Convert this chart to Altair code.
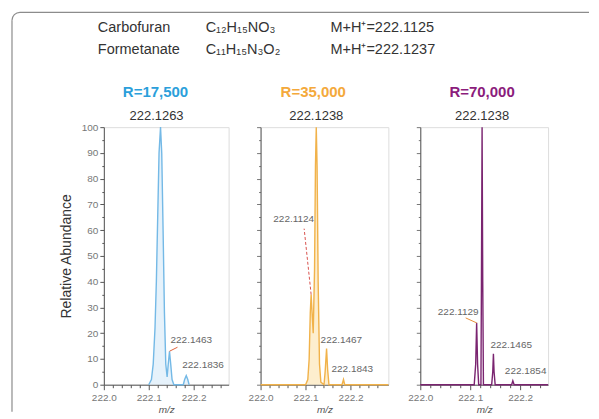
import altair as alt
import pandas as pd

# ---------------- header text ----------------
compounds = ["Carbofuran", "Formetanate"]
formulas = ["C₁₂H₁₅NO₃", "C₁₁H₁₅N₃O₂"]
mh_values = ["M+H⁺=222.1125", "M+H⁺=222.1237"]

# ---------------- panel titles ----------------
resolutions = ["R=17,500", "R=35,000", "R=70,000"]
res_colors = ["#2b9fdb", "#f4a93b", "#8b1c7c"]

# ---------------- axis ticks ----------------
y_ticks = [0, 5, 10, 15, 20, 25, 30, 35, 40, 45, 50, 55, 60, 65, 70, 75, 80, 85, 90, 95, 100]
x_ticks = [222.00, 222.02, 222.04, 222.06, 222.08, 222.10, 222.12, 222.14, 222.16,
           222.18, 222.20, 222.22, 222.24, 222.26]

# ---------------- profiles (m/z, relative abundance) ----------------
p1_mz = [222.100, 222.106, 222.110, 222.114, 222.117, 222.120, 222.123, 222.1263, 222.129,
         222.132, 222.135, 222.138, 222.141, 222.1435, 222.1463, 222.149, 222.152, 222.156,
         222.177, 222.180, 222.1836, 222.187, 222.190]
p1_ab = [0, 2, 8, 22, 40, 65, 90, 100, 90,
         60, 28, 8, 3, 8, 13, 8, 2, 0,
         0, 2, 3.5, 2, 0]

p2_mz = [222.000, 222.100, 222.105, 222.108, 222.1105, 222.1124, 222.1145, 222.117, 222.120,
         222.122, 222.1238, 222.1256, 222.128, 222.131, 222.134, 222.141, 222.1435, 222.1467,
         222.149, 222.152, 222.181, 222.1843, 222.187, 222.284]
p2_ab = [0, 0, 2, 10, 28, 35, 28, 20, 45,
         85, 100, 85, 40, 8, 1, 0, 5, 14,
         6, 0, 0, 2, 0, 0]

p3_mz = [222.000, 222.108, 222.111, 222.1129, 222.1148, 222.117, 222.1215, 222.1225, 222.1238,
         222.1251, 222.1265, 222.143, 222.1452, 222.1465, 222.1478, 222.150, 222.183, 222.1854,
         222.188, 222.256]
p3_ab = [0, 0, 8, 24, 8, 0, 0, 40, 100,
         40, 0, 0, 5, 12, 5, 0, 0, 1.5,
         0, 0]

# ---------------- labelled peaks ----------------
p1_peak_mz = [222.1263, 222.1463, 222.1836]
p1_peak_ab = [100, 13, 3.5]
p1_peak_lbl = ["222.1263", "222.1463", "222.1836"]

p2_peak_mz = [222.1238, 222.1124, 222.1467, 222.1843]
p2_peak_ab = [100, 35, 14, 2]
p2_peak_lbl = ["222.1238", "222.1124", "222.1467", "222.1843"]

p3_peak_mz = [222.1238, 222.1129, 222.1465, 222.1854]
p3_peak_ab = [100, 24, 12, 1.5]
p3_peak_lbl = ["222.1238", "222.1129", "222.1465", "222.1854"]

FONT = "Liberation Sans"

major_x = "abs(datum.value*10 - round(datum.value*10)) < 0.001"


def make_panel(mz, ab, pk_mz, pk_ab, pk_lbl, lbl_styles, leaders, width, xmax,
               line_color, fill_color, title, title_color, title_dx, first):
    xs = alt.Scale(domain=[222.0, xmax], nice=False, zero=False)
    ys = alt.Scale(domain=[0, 100], nice=False)
    xaxis = alt.Axis(values=x_ticks, labelExpr=f"{major_x} ? format(datum.value, '.1f') : ''",
                     tickSize={"condition": {"test": major_x, "value": 5}, "value": 3},
                     title="m/z", titleFontStyle="italic", titleFontWeight="normal",
                     titleFontSize=10, titleColor="#555", titlePadding=2,
                     labelFontSize=10, labelColor="#777", labelPadding=3,
                     domainColor="#555", tickColor="#555", grid=False, labelFlush=False)
    if first:
        yaxis = alt.Axis(values=y_ticks, labelExpr="datum.value % 10 == 0 ? datum.label : ''",
                         tickSize={"condition": {"test": "datum.value % 10 == 0", "value": 4}, "value": 2},
                         title="Relative Abundance", titleFontSize=14, titleFontWeight="normal",
                         titleColor="#333", titlePadding=8, labelFontSize=10, labelColor="#777",
                         labelPadding=2, domainColor="#555", tickColor="#555", grid=False)
    else:
        yaxis = alt.Axis(values=y_ticks, labels=False, title=None,
                         tickSize={"condition": {"test": "datum.value % 10 == 0", "value": 4}, "value": 2},
                         domainColor="#555", tickColor="#777", grid=False)
    X = alt.X("mz:Q", scale=xs, axis=xaxis)
    Y = alt.Y("ab:Q", scale=ys, axis=yaxis)

    df = pd.DataFrame({"mz": mz, "ab": ab})
    layers = []
    if fill_color:
        layers.append(alt.Chart(df).mark_area(color=fill_color, opacity=0.6).encode(x=X, y=Y))
    layers.append(alt.Chart(df).mark_line(color=line_color, strokeWidth=1.4).encode(x=X, y=Y))

    # leader lines
    for i, (dx2, dy2, col, dash) in leaders.items():
        ldf = pd.DataFrame({"mz": [pk_mz[i]], "ab": [pk_ab[i]]})
        kw = dict(color=col, strokeWidth=1, x2Offset=dx2, y2Offset=dy2)
        if dash:
            kw["strokeDash"] = [3, 2]
        layers.append(alt.Chart(ldf).mark_rule(**kw).encode(
            x=X, y=Y, x2=alt.X2("mz:Q"), y2=alt.Y2("ab:Q")))

    # peak labels
    for i in range(len(pk_mz)):
        dx, dy, align, size, col = lbl_styles[i]
        tdf = pd.DataFrame({"mz": [pk_mz[i]], "ab": [pk_ab[i]], "t": [pk_lbl[i]]})
        layers.append(alt.Chart(tdf).mark_text(dx=dx, dy=dy, align=align, baseline="middle",
                                               fontSize=size, color=col, font=FONT).encode(
            x=X, y=Y, text="t:N"))

    # resolution title above the main peak
    rdf = pd.DataFrame({"mz": [pk_mz[0]], "ab": [pk_ab[0]], "t": [title]})
    layers.append(alt.Chart(rdf).mark_text(dx=title_dx, dy=-35, align="center", baseline="middle",
                                           fontSize=15, fontWeight="bold", color=title_color,
                                           font=FONT).encode(x=X, y=Y, text="t:N"))
    return layers


dummy = pd.DataFrame({"a": [0]})

# panel 1
p1_styles = [(-4, -11, "center", 13, "#333"),
             (1, -11, "left", 10, "#666"),
             (-4, -11, "left", 10, "#666")]
p1_leaders = {1: (8, -4, "#e0603a", False)}
p1_layers = make_panel(p1_mz, p1_ab, p1_peak_mz, p1_peak_ab, p1_peak_lbl, p1_styles, p1_leaders,
                       125, 222.278, "#74b9e6", "#d6eaf8", resolutions[0], res_colors[0], -5, True)

# header and frame, placed in panel 1's coordinate space
border_col = "#8c8c8c"
p1_layers.append(alt.Chart(dummy).mark_rule(color=border_col, strokeWidth=1.2).encode(
    x=alt.value(-84), x2=alt.value(486), y=alt.value(-115)))
p1_layers.append(alt.Chart(dummy).mark_rule(color=border_col, strokeWidth=1.2).encode(
    x=alt.value(-92), y=alt.value(-107), y2=alt.value(285)))
p1_layers.append(alt.Chart(dummy).mark_arc(color=border_col, radius=8.6, radius2=7.4,
                                           theta=4.7124, theta2=6.2832).encode(
    x=alt.value(-84), y=alt.value(-107)))

header_rows_y = [-99, -77]
for r in range(2):
    for txt, xpos in ((compounds[r], -6), (formulas[r], 102), (mh_values[r], 227)):
        hdf = pd.DataFrame({"t": [txt]})
        p1_layers.append(alt.Chart(hdf).mark_text(align="left", baseline="middle", fontSize=14.5,
                                                  color="#333", font=FONT).encode(
            x=alt.value(xpos), y=alt.value(header_rows_y[r]), text="t:N"))

panel1 = alt.layer(*p1_layers).properties(width=125, height=258)

# panel 2
p2_styles = [(0, -11, "center", 13, "#333"),
             (3, -76, "right", 10, "#666"),
             (-6, -9, "left", 10, "#666"),
             (-12, -11, "left", 10, "#666")]
p2_leaders = {1: (-7, -66, "#d9534f", True)}
p2_layers = make_panel(p2_mz, p2_ab, p2_peak_mz, p2_peak_ab, p2_peak_lbl, p2_styles, p2_leaders,
                       128, 222.284, "#f1b24a", "#fbe2ad", resolutions[1], res_colors[1], -3, False)
panel2 = alt.layer(*p2_layers).properties(width=128, height=258)

# panel 3
p3_styles = [(0, -11, "center", 13, "#333"),
             (2, -11, "right", 10, "#666"),
             (-3, -9, "left", 10, "#666"),
             (-8, -10, "left", 10, "#666")]
p3_leaders = {1: (-11, -5, "#e8903a", False)}
p3_layers = make_panel(p3_mz, p3_ab, p3_peak_mz, p3_peak_ab, p3_peak_lbl, p3_styles, p3_leaders,
                       128, 222.256, "#7a2470", None, resolutions[2], res_colors[2], 0, False)
panel3 = alt.layer(*p3_layers).properties(width=128, height=258)

chart = alt.hconcat(panel1, panel2, panel3, spacing=32, bounds="flush").properties(
    padding={"left": 2, "top": 2, "right": 0, "bottom": 0}
).configure_view(stroke=None).configure_axis(labelFont=FONT, titleFont=FONT).configure(
    background="white")

chart.save("out.html", embed_options={"renderer": "svg", "actions": False})
